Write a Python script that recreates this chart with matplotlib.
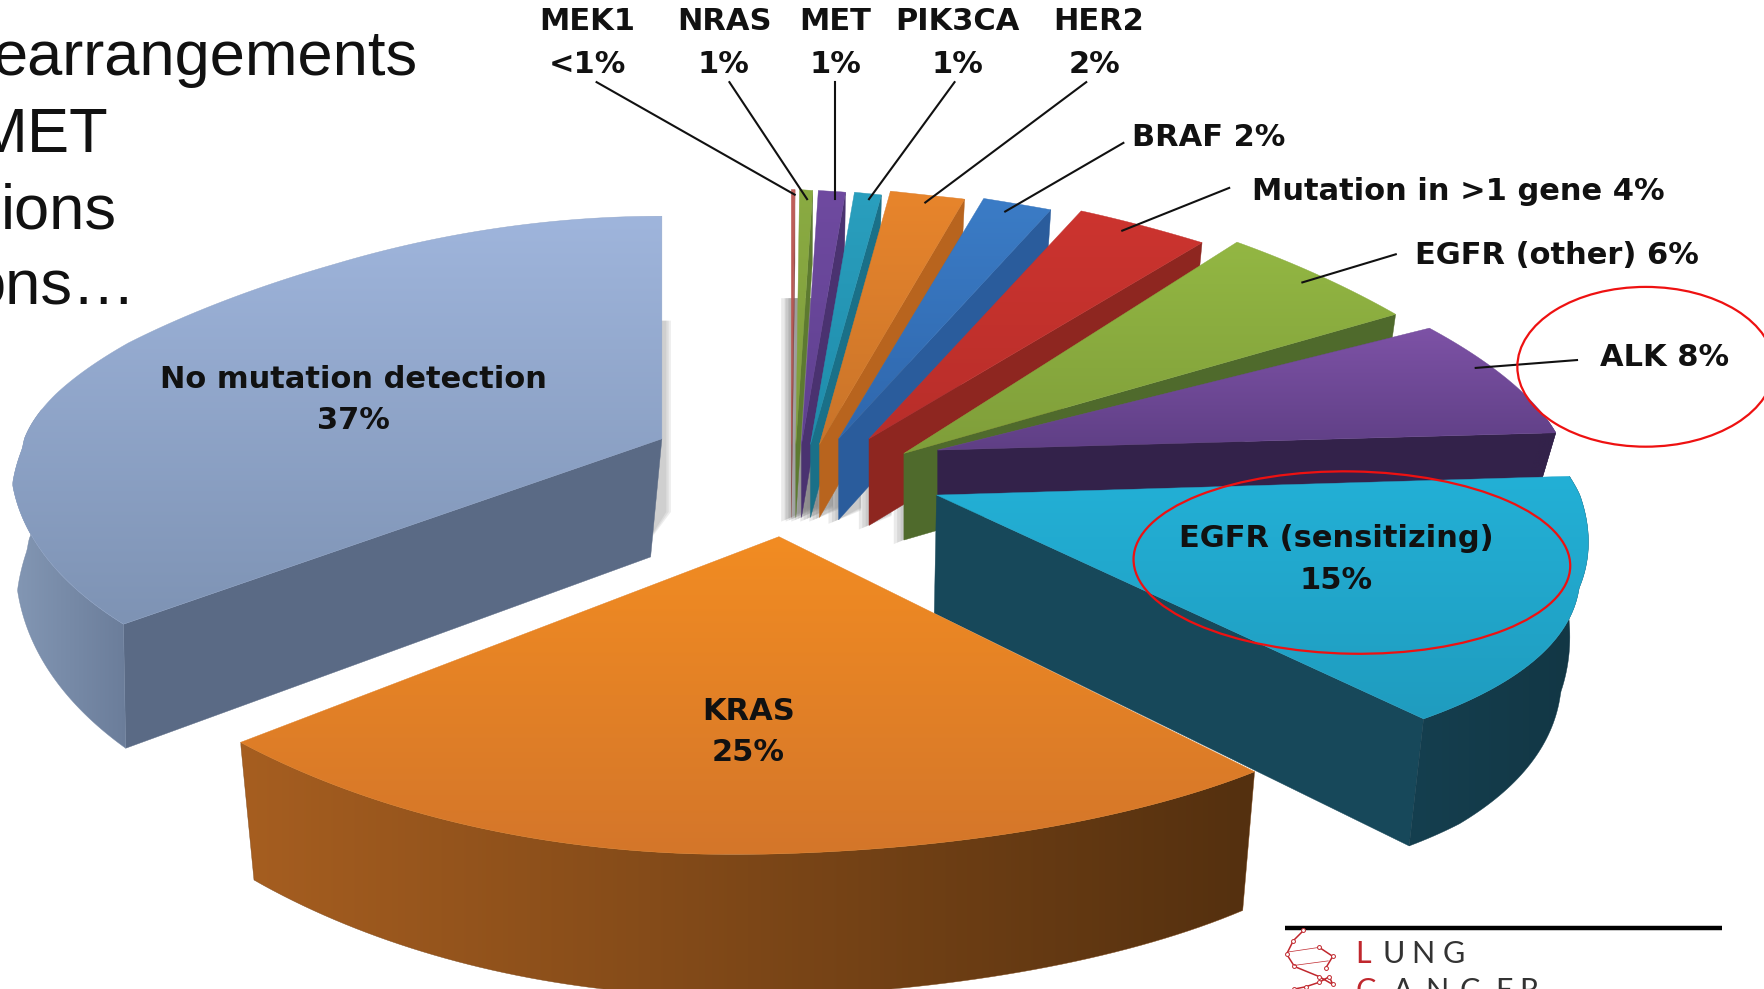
import numpy as np
import matplotlib
matplotlib.use("Agg")
import matplotlib.pyplot as plt
from matplotlib.patches import Polygon, Ellipse
from matplotlib.colors import to_rgb

# ---- data ----
categories = ["MEK1", "NRAS", "MET", "PIK3CA", "HER2", "BRAF", "Mutation in >1 gene",
              "EGFR (other)", "ALK", "EGFR (sensitizing)", "KRAS", "No mutation detection"]
values = [0.5, 1, 1, 1, 2, 2, 4, 6, 8, 15, 25, 37]
display = ["<1%", "1%", "1%", "1%", "2%", "2%", "4%", "6%", "8%", "15%", "25%", "37%"]

# ---- styles: top colour (far, near), radial face colour, arc colours (left, right) ----
top_far = ["#c0605a", "#8aab42", "#6f4aa0", "#2a9fbe", "#e8852c", "#3b7cc6", "#cc342f",
           "#93b743", "#7d52a6", "#23b0d6", "#f28c22", "#9fb5dc"]
top_near = ["#b0504c", "#7f9c3c", "#5f4190", "#1f8cab", "#c9742a", "#2f67ad", "#b82e2a",
            "#7f9e3a", "#5f3f85", "#1f9cbf", "#d4762a", "#7e93b4"]
face = ["#8a4a48", "#5d7a30", "#4a3270", "#1a7088", "#b8641e", "#2a5c9c", "#8e2620",
        "#4f6a2c", "#33224a", "#17485a", "#7a4416", "#5a6a85"]
arc_l = ["#8a4a48", "#5d7a30", "#4a3270", "#1a7088", "#b8641e", "#2a5c9c", "#8e2620",
         "#4f6a2c", "#33224a", "#153f4f", "#a65e20", "#8397b4"]
arc_r = ["#8a4a48", "#5d7a30", "#4a3270", "#1a7088", "#b8641e", "#2a5c9c", "#8e2620",
         "#4f6a2c", "#33224a", "#123644", "#54300f", "#6b7d9a"]

# ---- layout (in 1568-wide reference px) ----
apex = [(703, 395), (707, 395), (712, 395), (720, 395), (728, 395), (745, 390), (772, 390),
        (803, 403), (833, 400), (832, 440), (692, 477), (588, 390)]
depth = [65, 65, 65, 65, 65, 72, 77, 77, 46, 105, 115, 105]
side_shift = [0, 0, 0, 0, 0, 0, 0, 0, 0, -2, 0, -10]
depth_far = [1, 1, 1, 1, 1, 1, 1, 1, 1, .72, 1, .85]
kx_pos = [1, 1, 1, 1, 1, 1, 1, 1, 1, 1.024, 1, 1]
ky_pos = [.985, .985, .985, .985, 1, .98, .975, 1.05, .92, 1, 1, .86]
ky_neg = [1, 1, 1, 1, 1, 1, 1, 1, 1, .92, 1.01, .96]
ky_tilt = [0, 0, 0, 0, 0, 0, 0, 0, 0, 0, .071, 0]
draw_order = [0, 1, 2, 3, 4, 5, 6, 7, 8, 9, 11, 10]

Y_TAB = [-1.0, -.72, -.3, .07, .55, .83, .966, 1.016, 1.046, 1.06, 1.07]
RX_TAB = [740, 690, 600, 550, 497, 457, 425, 388, 300, 250, 100]
Y_TAB_L = [-.9, -.573, -.14, -.03, .216, .46, .84, 1.07]
RX_TAB_L = [600, 624, 590, 571, 544, 515, 455, 430]

fig = plt.figure(figsize=(17.65, 9.89), dpi=100, facecolor="white")
ax = fig.add_axes([0, 0, 1, 1])
ax.set_xlim(0, 1568)
ax.set_ylim(879, 0)
ax.axis("off")


def project(i, a):
    a = np.radians(a)
    X = np.sin(a)
    Y = np.cos(a) + 0.07
    rx = np.where(X >= -1e-9, np.interp(Y, Y_TAB, RX_TAB) * kx_pos[i], np.interp(Y, Y_TAB_L, RX_TAB_L))
    ry = np.where(Y >= 0, 215 * ky_pos[i], 300 * ky_neg[i] * (1 - ky_tilt[i] * X))
    return X * rx, -Y * ry


def grad_fill(pts, c0, c1, horizontal, z):
    pts = np.asarray(pts)
    x0, y0 = pts.min(0)
    x1, y1 = pts.max(0)
    t = np.linspace(0, 1, 128)
    col = np.outer(1 - t, to_rgb(c0)) + np.outer(t, to_rgb(c1))
    img = col[None, :, :] if horizontal else col[:, None, :]
    poly = Polygon(pts, closed=True, transform=ax.transData, fc="none", ec="none")
    ax.add_patch(poly)
    im = ax.imshow(img, extent=(x0, x1, y1, y0), aspect="auto", zorder=z, interpolation="bilinear")
    im.set_clip_path(poly)
    ax.add_patch(Polygon(pts, closed=True, fc="none", ec=tuple((np.array(to_rgb(c0)) + to_rgb(c1)) / 2),
                         lw=0.3, zorder=z))


total = sum(values)
edges = np.concatenate([[0], np.cumsum(values)]) / total * 360

# soft shadows
for i in range(0, 8):
    cx, cy = apex[i]
    for k in range(3):
        off = 3 + 3 * k
        ax.add_patch(Polygon([(cx - off, cy - 130), (cx - off, cy + depth[i] + off * .4),
                              (cx + 20, cy + depth[i] + off * .4 - 12), (cx + 20, cy - 130)],
                             fc="#808080", ec="none", alpha=.16, zorder=.5))
for k in range(3):
    ax.add_patch(Polygon([(592 + 2 * k, 285), (592 + 2 * k, 455), (570, 490), (570, 285)],
                         fc="#808080", ec="none", alpha=.14, zorder=.5))

z = 1
for i in draw_order:
    a0, a1 = edges[i], edges[i + 1]
    cx, cy = apex[i]
    h = depth[i]
    sh = side_shift[i]

    def top(a):
        px, py = project(i, a)
        return np.column_stack([cx + px, cy + py])

    def bottom(a):
        px, py = project(i, a)
        near = np.clip(py / 180, 0, 1)
        he = h * (depth_far[i] + (1 - depth_far[i]) * near)
        return np.column_stack([cx + sh + px * .975, cy + he + py * np.where(py > 0, 1.04, 1.0)])

    c_t = np.array([[cx, cy]])
    c_b = np.array([[cx + sh, cy + h]])
    # radial faces that look at the viewer
    if a1 <= 180:
        e = np.array([a1])
        ax.add_patch(Polygon(np.vstack([c_t, top(e), bottom(e), c_b]), fc=face[i], ec=face[i], lw=.3, zorder=z))
    if a0 >= 180:
        e = np.array([a0])
        ax.add_patch(Polygon(np.vstack([c_t, top(e), bottom(e), c_b]), fc=face[i], ec=face[i], lw=.3, zorder=z))
    # outer arc face
    lo, hi = max(a0, 86), min(a1, 274)
    if hi > lo:
        s = np.linspace(lo, hi, 80)
        grad_fill(np.vstack([top(s), bottom(s)[::-1]]), arc_l[i], arc_r[i], True, z + .1)
    # top surface
    s = np.linspace(a0, a1, 160)
    grad_fill(np.vstack([c_t, top(s)]), top_far[i], top_near[i], False, z + .2)
    z += 1

ax.set_xlim(0, 1568)
ax.set_ylim(879, 0)

# ---- labels ----
lab_font = dict(family="DejaVu Sans", fontweight="bold", fontsize=22, color="#111111", zorder=50)
top_cx = [522, 644, 742, 851, 976]
pct_cx = [522, 643, 742, 851, 972]
for i in range(5):
    ax.text(top_cx[i], 19, categories[i], ha="center", va="center", **lab_font)
    ax.text(pct_cx[i], 57, display[i], ha="center", va="center", **lab_font)
side_pos = [(1006, 122), (1112, 170), (1257, 227), (1421, 318)]
for i, (x, y) in zip(range(5, 9), side_pos):
    ax.text(x, y, f"{categories[i]} {display[i]}", ha="left", va="center", **lab_font)
in_pos = [(1187, 479, 516), (665, 632, 669), (314, 337, 374)]
for i, (x, y1, y2) in zip(range(9, 12), in_pos):
    ax.text(x, y1, categories[i], ha="center", va="center", **lab_font)
    ax.text(x, y2, display[i], ha="center", va="center", **lab_font)

leaders = [((530, 73), (706, 173)), ((648, 73), (717, 177)), ((742, 73), (742, 177)),
           ((848, 73), (772, 177)), ((965, 73), (822, 180)), ((998, 127), (893, 188)),
           ((1092, 167), (997, 205)), ((1240, 226), (1157, 251)), ((1401, 320), (1311, 327))]
for (x0, y0), (x1, y1) in leaders:
    ax.plot([x0, x1], [y0, y1], color="#111111", lw=1.5, zorder=40)

# ---- highlight ellipses ----
ax.add_patch(Ellipse((1201, 500), 388, 162, angle=1, fc="none", ec="#ee1111", lw=1.6, zorder=45))
ax.add_patch(Ellipse((1462, 326), 228, 142, fc="none", ec="#ee1111", lw=1.6, zorder=45))

# ---- slide text ----
slide_lines = [("earrangements", 371, 67), ("MET", 96, 135), ("ions", 104, 203), ("ons\u2026", 121, 271)]
for t, x, y in slide_lines:
    ax.text(x, y, t, ha="right", va="baseline", family="Liberation Sans", fontsize=45.5, color="#111111", zorder=50)

# ---- logo ----
ax.plot([1142, 1530], [825, 825], color="black", lw=3.2, solid_capstyle="butt", zorder=50)
for ch, x, c in zip("LUNG", [1204, 1228, 1254, 1282], ["#c0272d", "#333333", "#333333", "#333333"]):
    ax.text(x, 856, ch, ha="left", va="baseline", family="Lato", fontsize=22, color=c, zorder=50)
for ch, x, c in zip("CANCER", [1204, 1237, 1266, 1297, 1328, 1350],
                    ["#c0272d"] + ["#333333"] * 5):
    ax.text(x, 889, ch, ha="left", va="baseline", family="Lato", fontsize=22, color=c, zorder=50)
# helix mark
hx2 = [1158, 1149, 1143, 1150, 1172, 1184, 1181, 1172, 1160, 1150]
hy2 = [827, 836, 848, 859, 868, 875, 868, 873, 877, 879]
ax.plot(hx2, hy2, color="#c0272d", lw=1.1, marker="o", ms=2.8, mfc="white", mew=.7, zorder=50)
ax.plot([1145, 1172], [846, 842], color="#c0272d", lw=.5, zorder=50)
ax.plot([1150, 1180], [858, 854], color="#c0272d", lw=.5, zorder=50)
ax.plot([1172, 1184, 1178], [842, 850, 860], color="#c0272d", lw=1.1, marker="o", ms=2.8, mfc="white", mew=.7, zorder=50)

fig.savefig("out.png", dpi=100, facecolor="white")
